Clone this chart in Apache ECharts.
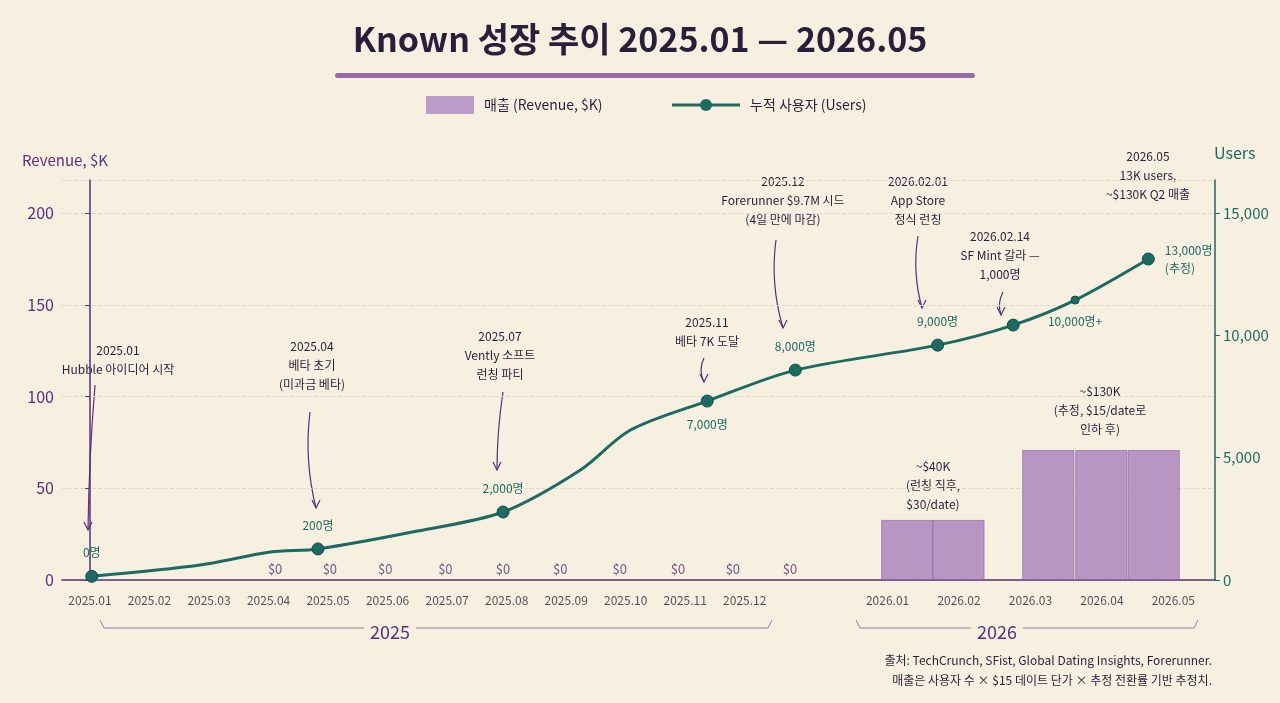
<!DOCTYPE html>
<html><head><meta charset="utf-8">
<script src="https://cdn.jsdelivr.net/npm/echarts@6/dist/echarts.min.js"></script>
<style>html,body{margin:0;background:#f7f0e1}#c{width:1280px;height:703px}</style>
</head><body><div id="c"></div>
<script>
// month index positions (2025.01 = 0)
const monthLabels = ['2025.01','2025.02','2025.03','2025.04','2025.05','2025.06','2025.07','2025.08','2025.09','2025.10','2025.11','2025.12','2026.01','2026.02','2026.03','2026.04','2026.05'];
const monthPos = [0,1,2,3,4,5,6,7,8,9,10,11,13.4,14.6,15.8,17.0,18.2];
// cumulative users [x, users]
const usersX = [0.03,1.85,3.03,3.83,5.5,6.94,8.24,9.08,10.37,11.85,14.24,15.51,16.55,17.78];
const usersY = [150,610,1140,1270,2000,2780,4500,6130,7315,8580,9600,10420,11440,13120];
const usersMarked = [true,false,false,true,false,true,false,false,true,true,true,true,false,true];
const usersLabels = ['0명','','','200명','','2,000명','','','7,000명','8,000명','9,000명','','10,000명+','13,000명\n(추정)'];
// revenue $K
const zeroRevX = [3.11,4.03,4.96,5.97,6.94,7.9,8.9,9.88,10.8,11.76];
const revX = [13.73,14.59,16.10,16.99,17.87];
const revY = [32.7,32.7,70.8,70.8,70.8];

const P='#5a2f7a', T='#1c6b62', INK='#2a1f3a';
const F='"Noto Sans CJK KR","Noto Sans",sans-serif';
const chart = echarts.init(document.getElementById('c'));

const usersData = usersX.map((x,i)=>({value:[x,usersY[i]],
  symbolSize: usersMarked[i]?12:(i===12?8:0),
  label:{show:!!usersLabels[i],formatter:usersLabels[i],
    position: i===8||i===12?'bottom':(i===13?'right':'top'), distance: i===13?10:8,
    color:T,fontSize:12,fontFamily:F,lineHeight:18, align: i===13?'left':'center'}}));

const annos = [
 {t:'2025.01\nHubble 아이디어 시작',x:118,y:360,a:[95,385,88,530]},
 {t:'2025.04\n베타 초기\n(미과금 베타)',x:312,y:365,a:[310,412,316,508]},
 {t:'2025.07\nVently 소프트\n런칭 파티',x:500,y:355,a:[503,392,497,470]},
 {t:'2025.11\n베타 7K 도달',x:707,y:332,a:[704,358,704,382]},
 {t:'2025.12\nForerunner $9.7M 시드\n(4일 만에 마감)',x:783,y:200,a:[776,240,783,328]},
 {t:'2026.02.01\nApp Store\n정식 런칭',x:918,y:200,a:[918,236,922,308]},
 {t:'2026.02.14\nSF Mint 갈라 —\n1,000명',x:1000,y:255,a:[1003,292,1001,315]},
 {t:'2026.05\n13K users,\n~$130K Q2 매출',x:1148,y:175,a:null},
 {t:'~$40K\n(런칭 직후,\n$30/date)',x:933,y:485,a:null,big:true},
 {t:'~$130K\n(추정, $15/date로\n인하 후)',x:1100,y:410,a:null,big:true}
];
const graphics=[];
annos.forEach(a=>{
  graphics.push({type:'text',x:a.x,y:a.y,style:{text:a.t,fill:INK,font:'12px '+F,align:'center',verticalAlign:'middle',lineHeight:19,
    rich:{}}});
  if(a.a){const [x1,y1,x2,y2]=a.a;
    graphics.push({type:'bezierCurve',shape:{x1,y1,x2,y2,cpx1:x1-6,cpy1:(y1+y2)/2},style:{stroke:P,lineWidth:1.2,fill:null}});
    graphics.push({type:'polyline',shape:{points:[[x2-4,y2-8],[x2,y2],[x2+4,y2-8]]},style:{stroke:P,lineWidth:1.2,fill:null}});
  }
});
// big bar label first lines larger
graphics.push(
 {type:'text',left:'center',top:22,style:{text:'Known 성장 추이 2025.01 — 2026.05',fill:INK,font:'bold 34px '+F}},
 {type:'rect',shape:{x:335,y:73,width:640,height:5,r:3},style:{fill:'#7d4a99',opacity:0.8}},
 {type:'rect',shape:{x:426,y:96,width:48,height:18},style:{fill:'#a77fbd',opacity:0.75}},
 {type:'text',x:484,y:105,style:{text:'매출 (Revenue, $K)',fill:INK,font:'14px '+F,verticalAlign:'middle'}},
 {type:'line',shape:{x1:672,y1:105,x2:740,y2:105},style:{stroke:T,lineWidth:3}},
 {type:'circle',shape:{cx:706,cy:105,r:6},style:{fill:T}},
 {type:'text',x:750,y:105,style:{text:'누적 사용자 (Users)',fill:INK,font:'14px '+F,verticalAlign:'middle'}},
 {type:'text',x:22,y:160,style:{text:'Revenue, $K',fill:P,font:'15px '+F,verticalAlign:'middle'}},
 {type:'text',x:1214,y:153,style:{text:'Users',fill:T,font:'16px '+F,verticalAlign:'middle'}},
 {type:'polyline',shape:{points:[[100,620],[104,628],[768,628],[772,620]]},style:{stroke:P,lineWidth:1,fill:null,opacity:0.6}},
 {type:'text',x:390,y:632,style:{text:'2025',fill:P,font:'18px '+F,align:'center',verticalAlign:'middle',backgroundColor:'#f7f0e1',padding:[0,6]}},
 {type:'polyline',shape:{points:[[856,620],[860,628],[1194,628],[1198,620]]},style:{stroke:P,lineWidth:1,fill:null,opacity:0.6}},
 {type:'text',x:997,y:632,style:{text:'2026',fill:P,font:'18px '+F,align:'center',verticalAlign:'middle',backgroundColor:'#f7f0e1',padding:[0,6]}},
 {type:'text',x:1212,y:660,style:{text:'출처: TechCrunch, SFist, Global Dating Insights, Forerunner.',fill:INK,font:'12px '+F,align:'right',verticalAlign:'middle'}},
 {type:'text',x:1212,y:680,style:{text:'매출은 사용자 수 × $15 데이트 단가 × 추정 전환률 기반 추정치.',fill:INK,font:'12px '+F,align:'right',verticalAlign:'middle'}}
);

chart.setOption({
  backgroundColor:'#f7f0e1',
  animation:false,
  grid:{left:62,right:65,top:180,bottom:123},
  xAxis:{type:'value',min:-0.47,max:18.9,axisLine:{show:true,lineStyle:{color:P,width:1.5}},axisTick:{show:false},axisLabel:{show:false},splitLine:{show:false}},
  yAxis:[
    {type:'value',min:0,max:218,interval:50,position:'left',
     axisLine:{show:true,lineStyle:{color:P,width:1.5}},axisTick:{show:true,lineStyle:{color:P}},
     axisLabel:{color:P,fontSize:16,fontFamily:F,showMaxLabel:false},
     splitLine:{lineStyle:{color:'#e3d9c8',type:'dashed'}}},
    {type:'value',min:0,max:16350,interval:5000,position:'right',
     axisLine:{show:true,lineStyle:{color:T,width:1.5}},axisTick:{show:true,lineStyle:{color:T}},
     axisLabel:{color:T,fontSize:15,fontFamily:F,showMaxLabel:false,formatter:v=>v.toLocaleString('en-US')},
     splitLine:{show:false}}
  ],
  graphic:graphics,
  series:[
    {type:'bar',yAxisIndex:0,barWidth:52,data:revX.map((x,i)=>[x,revY[i]]),
     itemStyle:{color:'#a77fbd',opacity:0.8,borderColor:'#8a5fa3',borderWidth:0.8}},
    {type:'scatter',yAxisIndex:0,symbolSize:0,data:zeroRevX.map(x=>[x,0]),
     label:{show:true,formatter:'$0',position:'top',distance:4,color:P,fontSize:13,fontFamily:F}},
    {type:'scatter',yAxisIndex:0,symbolSize:0,data:monthPos.map((x,i)=>({value:[x,0],name:monthLabels[i]})),
     label:{show:true,formatter:'{b}',position:'bottom',distance:14,color:INK,fontSize:12,fontFamily:F}},
    {type:'line',yAxisIndex:1,smooth:0.3,data:usersData,symbol:'circle',
     lineStyle:{color:T,width:3},itemStyle:{color:T,borderColor:'#0f4f47',borderWidth:1}}
  ]
});
</script></body></html>
